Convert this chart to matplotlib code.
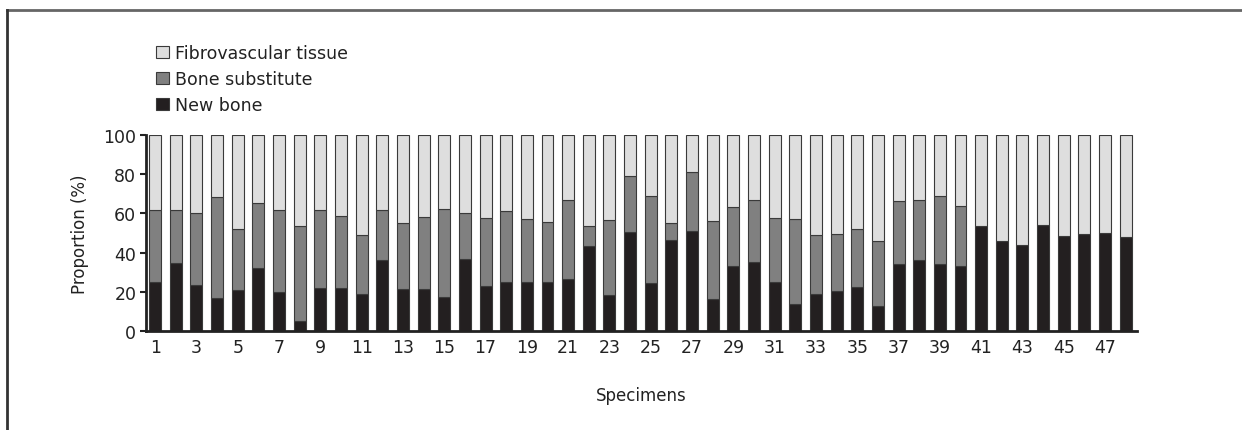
import matplotlib
matplotlib.use('Agg')
import matplotlib.pyplot as plt
import numpy as np
from matplotlib.lines import Line2D

# specimen numbers
specimens = list(range(1, 49))

# new bone (%) - bottom segment
new_bone = [25, 34.5, 23.5, 16.7, 21, 32, 20, 5, 22, 22,
            19, 36, 21.3, 21.3, 17.2, 36.7, 23, 25, 25, 25,
            26.5, 43.5, 18.2, 50.5, 24.5, 46.6, 51, 16.3, 33.2, 35,
            25, 14, 19, 20.4, 22.3, 12.8, 34.2, 36.2, 34.4, 33.3,
            53.6, 45.7, 44, 54, 48.6, 49.5, 50, 47.8]

# top of bone substitute segment (cumulative %)
cum_substitute = [61.7, 61.7, 60.3, 68.5, 52, 65.2, 61.7, 53.8, 61.7, 58.8,
                  48.8, 61.7, 55.3, 58.4, 62.1, 60, 57.8, 61.4, 57, 55.6,
                  67, 53.4, 56.5, 79.3, 68.8, 55.2, 81.1, 56.2, 63.5, 67,
                  57.6, 57, 48.9, 49.7, 52, 45.7, 66.3, 67, 68.8, 63.8,
                  53.6, 45.7, 44, 54, 48.6, 49.5, 50, 47.8]

bone_sub = [c - n for c, n in zip(cum_substitute, new_bone)]
fibro = [100 - c for c in cum_substitute]

plt.rcParams['font.family'] = ['DejaVu Sans']

fig = plt.figure(figsize=(12.42, 4.31), dpi=100)
ax = fig.add_axes([0.1176, 0.2297, 0.7979, 0.4548])

x = np.array(specimens)
w = 0.58
edge = '#3a3a3a'
ax.bar(x, new_bone, w, color='#231f20', edgecolor=edge, linewidth=0.8, label='New bone')
ax.bar(x, bone_sub, w, bottom=new_bone, color='#808080', edgecolor=edge, linewidth=0.8,
       label='Bone substitute')
ax.bar(x, fibro, w, bottom=cum_substitute, color='#dedede', edgecolor=edge, linewidth=0.8,
       label='Fibrovascular tissue')

ax.set_xlim(0.56, 48.55)
ax.set_ylim(0, 100)
ax.set_yticks(range(0, 101, 20))
ax.set_xticks(x[::2])
ax.set_xticklabels([str(s) for s in specimens[::2]])
ax.tick_params(axis='x', length=0, labelsize=12.5, pad=5, colors='#222222')
ax.tick_params(axis='y', length=4, width=1.5, labelsize=12.5, colors='#222222', pad=3)
for s in ['top', 'right']:
    ax.spines[s].set_visible(False)
for s in ['left', 'bottom']:
    ax.spines[s].set_linewidth(2)
    ax.spines[s].set_color('#222222')

ax.set_ylabel('Proportion (%)', fontsize=12, color='#222222', labelpad=10)
ax.set_xlabel('Specimens', fontsize=12, color='#222222', labelpad=22)

handles, labels = ax.get_legend_handles_labels()
leg = fig.legend(handles[::-1], labels[::-1], loc='upper left',
                 bbox_to_anchor=(0.126, 0.896), frameon=False, fontsize=12.5,
                 handlelength=0.7, handleheight=0.7, handletextpad=0.35,
                 labelspacing=0.47, borderaxespad=0, borderpad=0)
for t in leg.get_texts():
    t.set_color('#222222')

# partial frame around figure
fig.add_artist(Line2D([0.006, 1.0], [0.974, 0.974], transform=fig.transFigure,
                      color='#666666', linewidth=2))
fig.add_artist(Line2D([0.006, 0.006], [0.0, 0.974], transform=fig.transFigure,
                      color='#333333', linewidth=2))

fig.savefig('out.png', dpi=100)
